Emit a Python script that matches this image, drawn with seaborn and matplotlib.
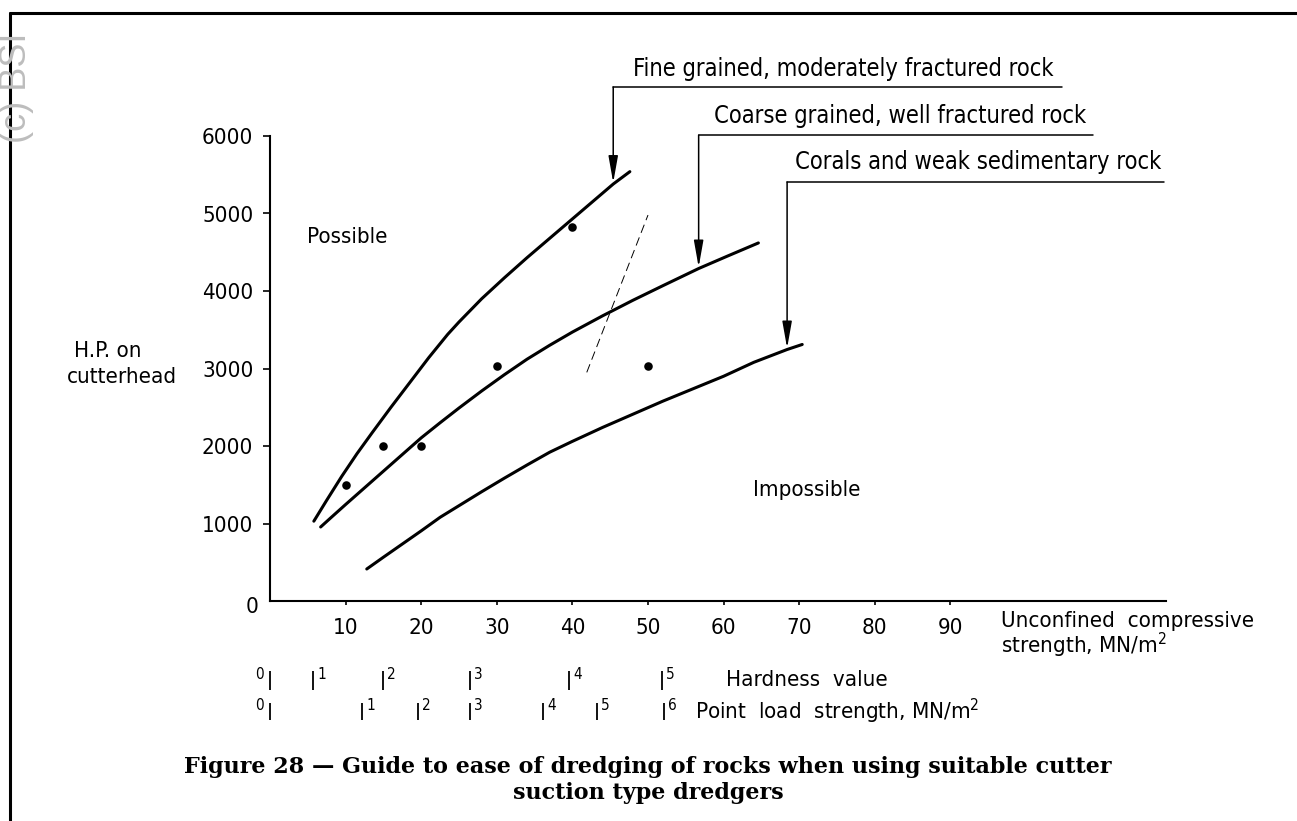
import numpy as np
import pandas as pd
import matplotlib
matplotlib.use("Agg")
import matplotlib.pyplot as plt
import matplotlib.transforms as mtransforms
from matplotlib.lines import Line2D
from matplotlib import font_manager as fm
import seaborn as sns

# ---------------- data ----------------
ucs_ticks = [10, 20, 30, 40, 50, 60, 70, 80, 90]
hp_ticks = [1000, 2000, 3000, 4000, 5000, 6000]

fine_x = [5.8, 7.5, 9.5, 11.5, 13.5, 16, 18.5, 21, 23.5, 25, 28, 31, 34, 37, 40, 43, 45.4, 47.6]
fine_y = [1030, 1300, 1610, 1900, 2170, 2500, 2820, 3140, 3440, 3600, 3900, 4170, 4430, 4680, 4930, 5180, 5380, 5540]

coarse_x = [6.7, 8, 10, 12.5, 15, 17.5, 20, 22.5, 25, 28, 31, 34, 37, 40, 44, 48, 52, 56.7, 60.5, 64.6]
coarse_y = [955, 1070, 1245, 1460, 1675, 1890, 2105, 2300, 2490, 2710, 2920, 3120, 3300, 3470, 3680, 3880, 4070, 4290, 4450, 4620]

corals_x = [12.8, 15, 17.5, 20, 22.5, 25, 28, 31, 34, 37, 40, 44, 48, 52, 56, 60, 64, 68.4, 70.4]
corals_y = [413, 565, 735, 905, 1080, 1230, 1410, 1585, 1755, 1920, 2060, 2240, 2410, 2580, 2740, 2900, 3080, 3245, 3310]

obs_x = [10, 15, 20, 30, 40, 50]
obs_y = [1500, 2000, 2000, 3030, 4830, 3030]

trend_x = [41.9, 50.0]
trend_y = [2950, 4980]

curve_labels = ["Fine grained, moderately fractured rock",
                "Coarse grained, well fractured rock",
                "Corals and weak sedimentary rock"]
label_arrow_x = [45.4, 56.7, 68.4]

hardness_values = [0, 1, 2, 3, 4, 5]
hardness_ucs = [0, 5.7, 14.9, 26.5, 39.6, 51.8]

pointload_values = [0, 1, 2, 3, 4, 5, 6]
pointload_ucs = [0, 12.2, 19.6, 26.4, 36.1, 43.3, 52.1]

# ---------------- style ----------------
sns.set_theme(style="ticks")
cond = [f for f in fm.fontManager.ttflist
        if f.name == "DejaVu Sans" and str(f.stretch) in ("condensed", "semi-condensed")]
names = {f.name for f in fm.fontManager.ttflist}
if cond:
    FAM = "DejaVu Sans"
    plt.rcParams["font.stretch"] = "condensed"
elif "Liberation Sans Narrow" in names:
    FAM = "Liberation Sans Narrow"
else:
    FAM = "DejaVu Sans"
plt.rcParams["font.family"] = [FAM, "DejaVu Sans"]
plt.rcParams["text.color"] = "black"
plt.rcParams["axes.edgecolor"] = "black"
plt.rcParams["xtick.color"] = "black"
plt.rcParams["ytick.color"] = "black"

W, H = 1297, 821
fig = plt.figure(figsize=(W / 100, H / 100), dpi=100)
fig.patch.set_facecolor("white")


def fx(px):
    return px / W


def fy(py):
    return 1 - py / H


X0, Y0 = 270, 601          # pixel position of data origin
PPX, PPY = 7.56, 0.0775    # pixels per unit
XMAX, YMAX = 118.5, 6000
ax = fig.add_axes([fx(X0), fy(Y0), XMAX * PPX / W, YMAX * PPY / H])
ax.set_facecolor("white")
ax.set_xlim(0, XMAX)
ax.set_ylim(0, YMAX)

# ---------------- marks ----------------
LW = 2.2
for xs, ys in [(fine_x, fine_y), (coarse_x, coarse_y), (corals_x, corals_y)]:
    df = pd.DataFrame({"x": xs, "y": ys})
    sns.lineplot(data=df, x="x", y="y", sort=False, estimator=None,
                 color="black", lw=LW, ax=ax)

sns.scatterplot(x=obs_x, y=obs_y, s=38, color="black", edgecolor="black",
                linewidth=0, ax=ax, zorder=5)

ax.plot(trend_x, trend_y, color="black", lw=0.7, linestyle=(0, (9, 5)))

# ---------------- axes styling ----------------
sns.despine(ax=ax)
for s in ["left", "bottom"]:
    ax.spines[s].set_linewidth(1.5)
ax.set_xticks(ucs_ticks)
ax.set_xticklabels([str(v) for v in ucs_ticks])
ax.set_yticks(hp_ticks)
ax.set_yticklabels([str(v) for v in hp_ticks])
ax.tick_params(axis="x", direction="out", length=3, width=1.2, pad=9, labelsize=16)
ax.tick_params(axis="y", direction="out", length=5, width=1.2, pad=7, labelsize=16)
ax.set_xlabel("")
ax.set_ylabel("")
fig.text(fx(252), fy(607), "0", ha="center", va="center", fontsize=16)

# axis titles and region labels
fig.text(fx(74), fy(351), "H.P. on", ha="left", va="center", fontsize=16)
fig.text(fx(67), fy(377), "cutterhead", ha="left", va="center", fontsize=16)
fig.text(fx(307), fy(237), "Possible", ha="left", va="center", fontsize=16)
fig.text(fx(753), fy(490), "Impossible", ha="left", va="center", fontsize=16)
fig.text(fx(1001), fy(621), "Unconfined  compressive", ha="left", va="center", fontsize=16)
fig.text(fx(1001), fy(645), "strength, MN/m$^2$", ha="left", va="center", fontsize=16)

# ---------------- curve labels with leaders ----------------
inv = ax.transData.inverted()


def px2data(px, py):
    return inv.transform((px, H - py))


curves = [(fine_x, fine_y), (coarse_x, coarse_y), (corals_x, corals_y)]
line_py = [87, 135, 182]
line_end_px = [1062, 1093, 1164]
text_px = [(633, 69), (714, 116), (795, 162)]
for (xs, ys), lab, axx, lpy, lend, (tx, ty) in zip(curves, curve_labels, label_arrow_x,
                                                   line_py, line_end_px, text_px):
    cy = float(np.interp(axx, xs, ys))
    ly = px2data(0, lpy)[1]
    ex = px2data(lend, 0)[0]
    ax.plot([axx, ex], [ly, ly], color="black", lw=1.1, clip_on=False)
    ax.annotate("", xy=(axx, cy), xytext=(axx, ly),
                arrowprops=dict(arrowstyle="-|>,head_length=0.9,head_width=0.16",
                                color="black", lw=1.1, shrinkA=0, shrinkB=1,
                                mutation_scale=18),
                annotation_clip=False)
    fig.text(fx(tx), fy(ty), lab, ha="left", va="center", fontsize=17)

# ---------------- secondary scales ----------------
blend = mtransforms.blended_transform_factory(ax.transData, fig.transFigure)


def scale_row(ucs, vals, top_py, bot_py, title, title_px):
    ax.vlines(ucs, fy(bot_py), fy(top_py), transform=blend, colors="black",
              lw=1.3, clip_on=False)
    for u, v in zip(ucs, vals):
        if v == 0:
            t = mtransforms.offset_copy(blend, fig=fig, x=-6, y=0, units="dots")
            ax.text(u, fy(top_py + 3), str(v), transform=t, ha="right", va="center",
                    fontsize=11, clip_on=False)
        else:
            t = mtransforms.offset_copy(blend, fig=fig, x=4, y=0, units="dots")
            ax.text(u, fy(top_py + 3), str(v), transform=t, ha="left", va="center",
                    fontsize=11, clip_on=False)
    fig.text(fx(title_px), fy((top_py + bot_py) / 2), title, ha="left", va="center",
             fontsize=16)


scale_row(hardness_ucs, hardness_values, 671, 690, "Hardness  value", 726)
scale_row(pointload_ucs, pointload_values, 703, 720, "Point  load  strength, MN/m$^2$", 695)

# ---------------- caption ----------------
cap_kw = dict(ha="center", va="center", fontsize=16, fontweight="bold",
              family=["DejaVu Serif"], stretch="normal")
fig.text(fx(648), fy(767),
         "Figure 28 \u2014 Guide to ease of dredging of rocks when using suitable cutter",
         **cap_kw)
fig.text(fx(648), fy(793), "suction type dredgers", **cap_kw)

# ---------------- page frame and watermark ----------------
fig.add_artist(Line2D([fx(10), fx(W + 5)], [fy(13), fy(13)], color="black", lw=2.2,
                      transform=fig.transFigure))
fig.add_artist(Line2D([fx(10), fx(10)], [fy(13), fy(H + 5)], color="black", lw=2.2,
                      transform=fig.transFigure))
fig.text(fx(17), fy(88), "(c) BSI", rotation=90, ha="center", va="center",
         fontsize=26, color="#bdbdbd", family=["Liberation Sans", "DejaVu Sans"],
         stretch="normal")

fig.savefig("out.png", dpi=100, facecolor="white")
